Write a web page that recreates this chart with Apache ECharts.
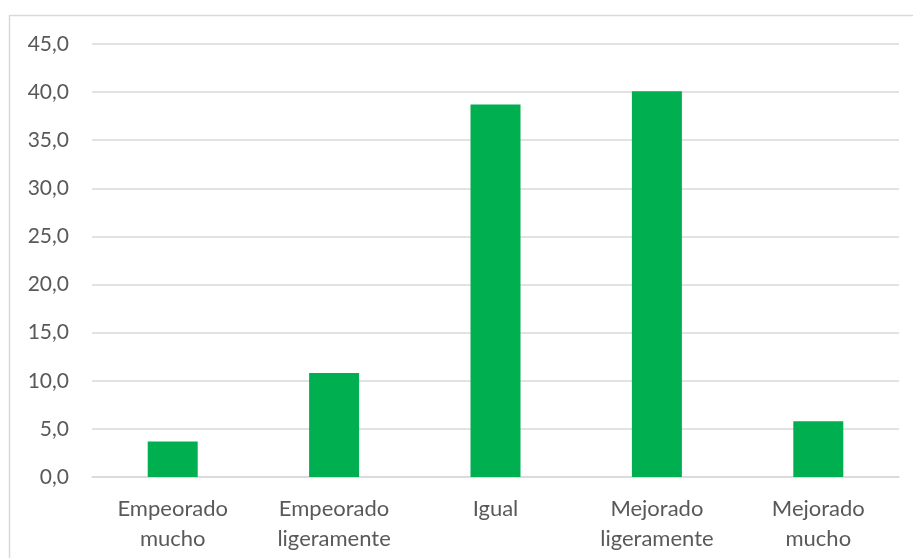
<!DOCTYPE html>
<html>
<head>
<meta charset="utf-8">
<script src="https://cdn.jsdelivr.net/npm/echarts@6/dist/echarts.min.js"></script>
<style>
  html, body { margin: 0; padding: 0; background: #ffffff; }
  #chart { width: 913px; height: 558px; }
</style>
</head>
<body>
<div id="chart"></div>
<script>
// Survey response categories and their percentages
const categories = ['Empeorado\nmucho', 'Empeorado\nligeramente', 'Igual', 'Mejorado\nligeramente', 'Mejorado\nmucho'];
const values = [3.7, 10.8, 38.7, 40.1, 5.8];

// Value axis range
const yMin = 0;
const yMax = 45;
const yStep = 5;

const textColor = '#595959';
const gridColor = '#d9d9d9';
const barColor = '#00b050';
const fontFamily = 'Lato, "Open Sans", sans-serif';

const chart = echarts.init(document.getElementById('chart'), null, { renderer: 'canvas' });

chart.setOption({
  animation: false,
  backgroundColor: '#ffffff',
  graphic: [{
    type: 'rect',
    shape: { x: 9.5, y: 15.5, width: 1200, height: 1000 },
    style: { fill: 'none', stroke: gridColor, lineWidth: 1.5 },
    silent: true
  }],
  grid: { left: 92, right: 14, top: 44, bottom: 81, containLabel: false },
  xAxis: {
    type: 'category',
    data: categories,
    axisLine: { show: true, lineStyle: { color: gridColor, width: 1.5 } },
    axisTick: { show: false },
    axisLabel: {
      color: textColor,
      fontFamily: fontFamily,
      fontSize: 22,
      lineHeight: 30,
      margin: 17,
      interval: 0
    }
  },
  yAxis: {
    type: 'value',
    min: yMin,
    max: yMax,
    interval: yStep,
    axisLine: { show: false },
    axisTick: { show: false },
    splitLine: { lineStyle: { color: gridColor, width: 1.5 } },
    axisLabel: {
      color: textColor,
      fontFamily: fontFamily,
      fontSize: 21,
      margin: 23,
      formatter: v => v.toFixed(1).replace('.', ',')
    }
  },
  series: [{
    type: 'bar',
    data: values,
    barWidth: 50,
    itemStyle: { color: barColor }
  }]
});
</script>
</body>
</html>
